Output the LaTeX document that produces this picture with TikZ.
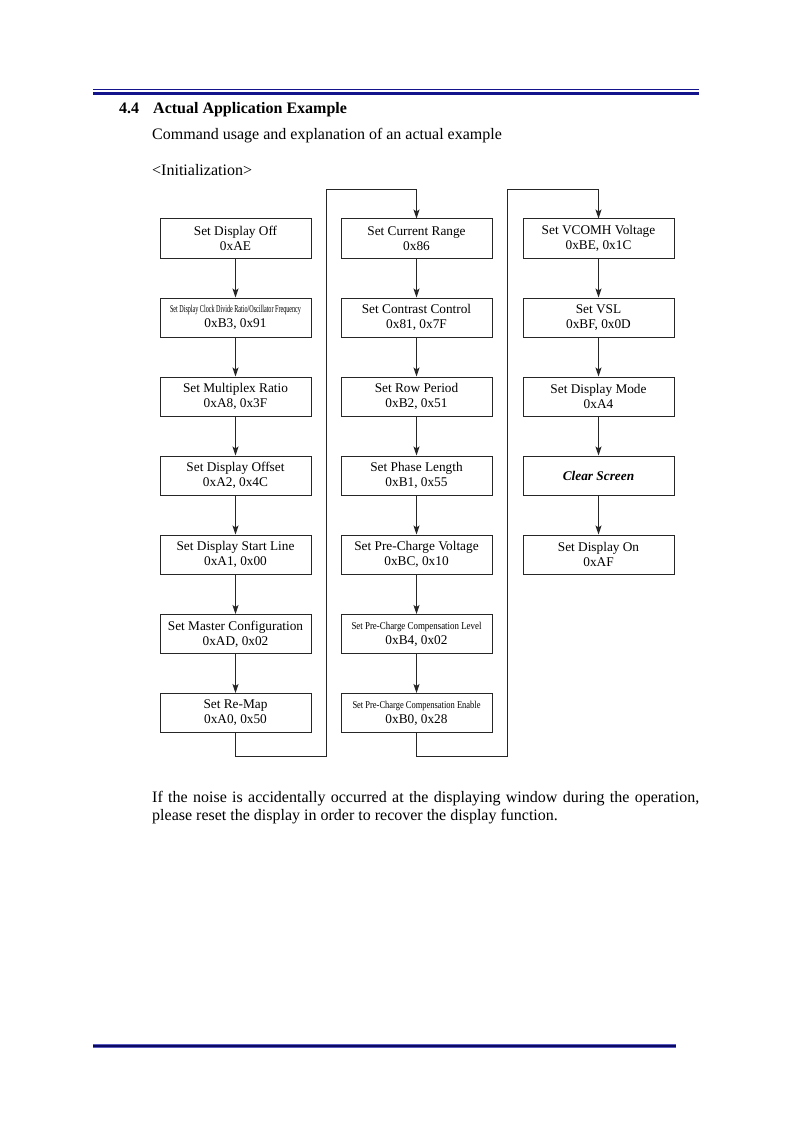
\documentclass[tikz,border=0pt]{standalone}
\usepackage{fontspec}
\setmainfont{Liberation Serif}
\usepackage{graphicx}
\usetikzlibrary{arrows.meta}
\newcommand{\condtext}[2]{\resizebox{#1}{\height}{\fontsize{10.5}{12}\selectfont #2}}
\begin{document}
\begin{tikzpicture}[x=1pt,y=-1pt,
  cmd/.style={draw=black!85, line width=1pt, minimum width=151pt, minimum height=39pt,
    inner sep=0pt, align=center, font=\fontsize{13.3}{15}\selectfont},
  flow/.style={draw=black!85, line width=1pt, -{Stealth[length=9pt,width=6pt,inset=2pt]}},
  body/.style={anchor=base west, inner sep=0pt, font=\fontsize{16}{18}\selectfont},
  rulecol/.style={draw={rgb,255:red,20;green,20;blue,140}}]
\useasboundingbox (0,0) rectangle (794,1123);
% header and footer rules
\draw[rulecol, line width=1.5pt] (93,89.5) coordinate (h1) -- (699,89.5) coordinate (h2);
\draw[rulecol, line width=3pt] (93,93.5) coordinate (h3) -- (699,93.5) coordinate (h4);
\draw[draw={rgb,255:red,90;green,90;blue,190}, line width=4.5pt] (93,1046) coordinate (f1) -- (676,1046) coordinate (f2);
\draw[draw={rgb,255:red,10;green,10;blue,100}, line width=2pt] (f1) -- (f2);
% texts
\node[body, font=\fontsize{16}{18}\selectfont\bfseries] (sec) at (119,113.5) {4.4};
\node[body, font=\fontsize{16}{18}\selectfont\bfseries] (title) at (153,113.5) {Actual Application Example};
\node[body] (intro) at (152,140) {Command usage and explanation of an actual example};
\node[body] (init) at (152,176) {<Initialization>};
\node[body] (p1) at (152,802) {\makebox[547pt][s]{If the noise is accidentally occurred at the displaying window during the operation,}};
\node[body] (p2) at (152,820) {please reset the display in order to recover the display function.};
% column 1
\node[cmd] (a1) at (235.5,238.5) {Set Display Off\\0xAE};
\node[cmd] (a2) at (235.5,317.5) {\condtext{131pt}{Set Display Clock Divide Ratio/Oscillator Frequency}\\0xB3, 0x91};
\node[cmd] (a3) at (235.5,396.5) {Set Multiplex Ratio\\0xA8, 0x3F};
\node[cmd] (a4) at (235.5,475.5) {Set Display Offset\\0xA2, 0x4C};
\node[cmd] (a5) at (235.5,554.5) {Set Display Start Line\\0xA1, 0x00};
\node[cmd] (a6) at (235.5,634) {Set Master Configuration\\0xAD, 0x02};
\node[cmd] (a7) at (235.5,713) {Set Re-Map\\0xA0, 0x50};
% column 2
\node[cmd] (b1) at (416.5,238.5) {Set Current Range\\0x86};
\node[cmd] (b2) at (416.5,317.5) {Set Contrast Control\\0x81, 0x7F};
\node[cmd] (b3) at (416.5,396.5) {Set Row Period\\0xB2, 0x51};
\node[cmd] (b4) at (416.5,475.5) {Set Phase Length\\0xB1, 0x55};
\node[cmd] (b5) at (416.5,554.5) {Set Pre-Charge Voltage\\0xBC, 0x10};
\node[cmd] (b6) at (416.5,634) {\condtext{130pt}{Set Pre-Charge Compensation Level}\\0xB4, 0x02};
\node[cmd] (b7) at (416.5,713) {\condtext{128pt}{Set Pre-Charge Compensation Enable}\\0xB0, 0x28};
% column 3
\node[cmd] (c1) at (598.5,238.5) {Set VCOMH Voltage\\0xBE, 0x1C};
\node[cmd] (c2) at (598.5,317.5) {Set VSL\\0xBF, 0x0D};
\node[cmd] (c3) at (598.5,396.5) {Set Display Mode\\0xA4};
\node[cmd, font=\fontsize{13.3}{15}\selectfont\bfseries\itshape] (c4) at (598.5,475.5) {Clear Screen};
\node[cmd] (c5) at (598.5,554.5) {Set Display On\\0xAF};
% arrows
\foreach \col in {a,b}{
  \foreach \i [evaluate=\i as \j using int(\i+1)] in {1,...,6}{
    \draw[flow] (\col\i) -- (\col\j);
  }
}
\foreach \i [evaluate=\i as \j using int(\i+1)] in {1,...,4}{
  \draw[flow] (c\i) -- (c\j);
}
% column links
\coordinate (l1) at (326,756);
\coordinate (l2) at (326,190);
\coordinate (m1) at (507,756);
\coordinate (m2) at (507,190);
\draw[flow] (a7.south) |- (l1) -- (l2) -| (b1.north);
\draw[flow] (b7.south) |- (m1) -- (m2) -| (c1.north);
\end{tikzpicture}
\end{document}
